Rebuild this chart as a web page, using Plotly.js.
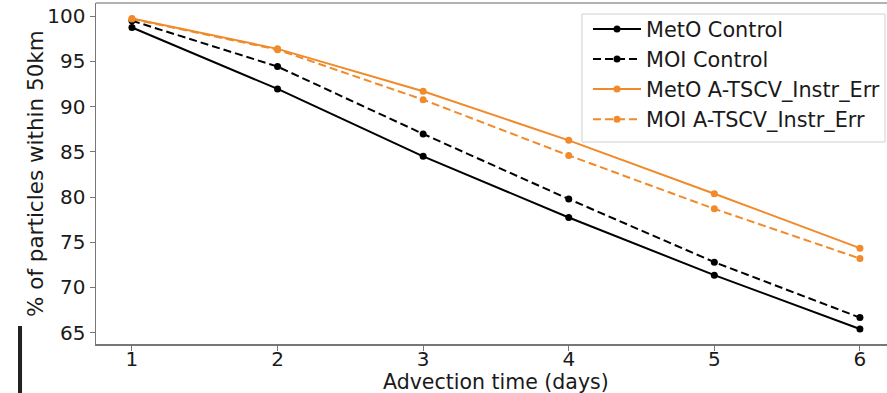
<!DOCTYPE html>
<html>
<head>
<meta charset="utf-8">
<script src="https://cdn.plot.ly/plotly-3.0.1.min.js"></script>
<style>html,body{margin:0;padding:0;background:#fff;}#chart{width:887px;height:393px;}</style>
</head>
<body>
<div id="chart"></div>
<script>
const days = [1, 2, 3, 4, 5, 6];
const metoControl = [98.75, 91.96, 84.5, 77.74, 71.36, 65.41];
const moiControl = [99.5, 94.43, 86.98, 79.78, 72.8, 66.67];
const metoATSCV = [99.75, 96.39, 91.7, 86.27, 80.37, 74.35];
const moiATSCV = [99.7, 96.3, 90.77, 84.6, 78.7, 73.2];
const seriesNames = ['MetO Control', 'MOI Control', 'MetO A-TSCV_Instr_Err', 'MOI A-TSCV_Instr_Err'];
const xTicks = [1, 2, 3, 4, 5, 6];
const yTicks = [65, 70, 75, 80, 85, 90, 95, 100];
const xTitle = 'Advection time (days)';
const yTitle = '% of particles within 50km';

const orange = '#f08a2a';
const black = '#000000';
const styles = [
  {color: black, dash: 'solid'},
  {color: black, dash: '8px,4px'},
  {color: orange, dash: 'solid'},
  {color: orange, dash: '8px,4px'}
];
const series = [metoControl, moiControl, metoATSCV, moiATSCV];

const traces = series.map((vals, i) => ({
  x: days, y: vals, name: seriesNames[i], type: 'scatter', mode: 'lines+markers',
  legendgroup: 'g' + i,
  line: {color: styles[i].color, width: 2, dash: styles[i].dash},
  marker: {color: styles[i].color, size: 7}
}));

const txt = '#1a1a1a';
const layout = {
  width: 887, height: 393,
  margin: {l: 96, r: 0, t: 3, b: 49, autoexpand: false},
  paper_bgcolor: '#fff', plot_bgcolor: '#fff',
  font: {family: 'DejaVu Sans', size: 20, color: txt},
  showlegend: true,
  legend: {
    x: 0.622, y: 0.9824, xanchor: 'left', yanchor: 'top',
    bgcolor: 'rgba(0,0,0,0)', borderwidth: 0,
    font: {family: 'DejaVu Sans', size: 20.8, color: txt},
    itemwidth: 48,
    tracegroupgap: 0
  },
  xaxis: {
    range: [0.753, 6.186], tickvals: xTicks, ticktext: xTicks.map(String),
    showgrid: false, zeroline: false, showline: true, linecolor: '#777', linewidth: 1.5,
    ticks: 'outside', ticklen: 5, tickcolor: '#777', tickwidth: 1,
    ticklabelstandoff: -9,
    tickfont: {family: 'DejaVu Sans', size: 20, color: txt}
  },
  yaxis: {
    range: [63.75, 101.46], tickvals: yTicks, ticktext: yTicks.map(String),
    showgrid: false, zeroline: false, showline: true, linecolor: '#777', linewidth: 1.5,
    ticks: 'outside', ticklen: 5, tickcolor: '#777', tickwidth: 1,
    tickfont: {family: 'DejaVu Sans', size: 20, color: txt}
  },
  annotations: [
    {text: xTitle, xref: 'paper', yref: 'paper', x: 0.5057, y: -0.1114, xanchor: 'center', yanchor: 'middle', showarrow: false,
     font: {family: 'DejaVu Sans', size: 20.5, color: txt}},
    {text: yTitle, xref: 'paper', yref: 'paper', x: -0.0771, y: 0.4985, xanchor: 'center', yanchor: 'middle', showarrow: false, textangle: -90,
     font: {family: 'DejaVu Sans', size: 21.5, color: txt}}
  ],
  shapes: [
    {type: 'line', xref: 'paper', yref: 'paper', x0: 0, x1: 1, y0: 1, y1: 1, line: {color: '#999', width: 1.5}},
    {type: 'rect', xref: 'paper', yref: 'paper', layer: 'above', x0: 0.6144, x1: 0.9975, y0: 0.5924, y1: 0.9677,
     line: {color: '#d0d0d0', width: 1}, fillcolor: 'rgba(255,255,255,0.8)'},
    {type: 'rect', xref: 'paper', yref: 'paper', x0: -0.0986, x1: -0.0935, y0: -0.1437, y1: 0.0528, line: {width: 0}, fillcolor: '#222'}
  ]
};

Plotly.newPlot('chart', traces, layout, {displayModeBar: false, staticPlot: true});
</script>
</body>
</html>
